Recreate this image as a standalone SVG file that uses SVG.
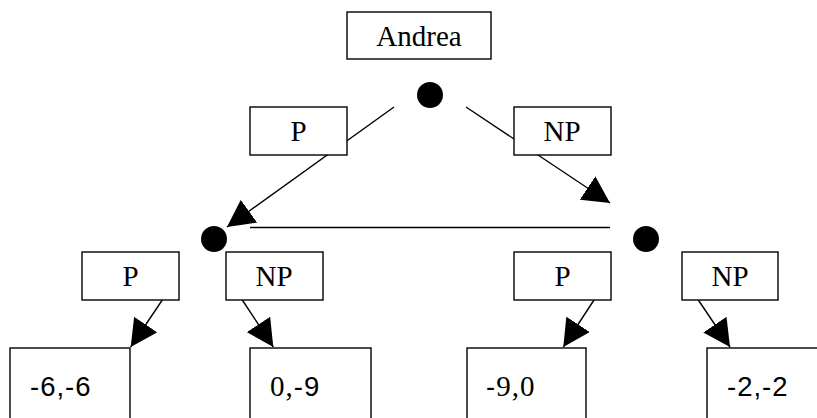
<svg xmlns="http://www.w3.org/2000/svg" width="817" height="418" viewBox="0 0 817 418">
  <style>
    .box { fill: #fff; stroke: #000; stroke-width: 1.4; }
    .edge { stroke: #000; stroke-width: 1.4; fill: none; }
    .lbl { font-family: "Liberation Serif", "Times New Roman", serif; font-size: 29px; text-anchor: middle; fill: #000; }
    .pay { font-family: "Liberation Sans", Arial, sans-serif; font-size: 27.5px; letter-spacing: 1px; fill: #000; }
    .ser { font-family: "Liberation Serif", "Times New Roman", serif; font-size: 29px; }
    .dot { fill: #000; }
  </style>
  <defs>
    <marker id="arrow" viewBox="0 0 27 28" refX="27" refY="14" markerWidth="27" markerHeight="28" markerUnits="userSpaceOnUse" orient="auto">
      <path d="M0,0 L27,14 L0,28 z" fill="#000"/>
    </marker>
  </defs>

  <!-- connectors: moves, information set -->
  <g id="connectors">
    <line class="edge" x1="394" y1="107" x2="227" y2="227" marker-end="url(#arrow)"/>
    <line class="edge" x1="466" y1="107" x2="610" y2="203" marker-end="url(#arrow)"/>
    <line class="edge" x1="250" y1="227.5" x2="610" y2="227.5"/>
    <line class="edge" x1="162.3" y1="300" x2="130.7" y2="347" marker-end="url(#arrow)"/>
    <line class="edge" x1="242.3" y1="300" x2="273.3" y2="347" marker-end="url(#arrow)"/>
    <line class="edge" x1="594" y1="300" x2="563.3" y2="347" marker-end="url(#arrow)"/>
    <line class="edge" x1="698.3" y1="300" x2="730" y2="347" marker-end="url(#arrow)"/>
  </g>

  <!-- decision nodes -->
  <g id="root-node"><circle class="dot" cx="430" cy="95" r="13"/></g>
  <g id="left-node"><circle class="dot" cx="214" cy="239" r="13"/></g>
  <g id="right-node"><circle class="dot" cx="646" cy="239" r="13"/></g>

  <!-- player label -->
  <g id="player">
    <rect class="box" x="347" y="12" width="144" height="47"/>
    <text class="lbl" x="419" y="46">Andrea</text>
  </g>

  <!-- move labels -->
  <g id="move-p-top">
    <rect class="box" x="250" y="107" width="97" height="48"/>
    <text class="lbl" x="298.5" y="141">P</text>
  </g>
  <g id="move-np-top">
    <rect class="box" x="514" y="107" width="97" height="48"/>
    <text class="lbl" x="562" y="141">NP</text>
  </g>
  <g id="move-p-left">
    <rect class="box" x="82" y="252" width="97" height="48"/>
    <text class="lbl" x="130.5" y="286">P</text>
  </g>
  <g id="move-np-left">
    <rect class="box" x="226" y="252" width="97" height="48"/>
    <text class="lbl" x="274" y="286">NP</text>
  </g>
  <g id="move-p-right">
    <rect class="box" x="514" y="252" width="97" height="48"/>
    <text class="lbl" x="562.5" y="286">P</text>
  </g>
  <g id="move-np-right">
    <rect class="box" x="682" y="252" width="96" height="48"/>
    <text class="lbl" x="730" y="286">NP</text>
  </g>

  <!-- payoffs -->
  <g id="payoff-1">
    <rect class="box" x="10" y="348" width="120" height="100"/>
    <text class="pay" x="30" y="396">-6,-6</text>
  </g>
  <g id="payoff-2">
    <rect class="box" x="250" y="348" width="121" height="100"/>
    <text class="pay" x="270" y="396"><tspan class="ser">0,</tspan>-9</text>
  </g>
  <g id="payoff-3">
    <rect class="box" x="467" y="348" width="119" height="100"/>
    <text class="pay" x="486" y="396">-<tspan class="ser">9,0</tspan></text>
  </g>
  <g id="payoff-4">
    <rect class="box" x="707" y="348" width="130" height="100"/>
    <text class="pay" x="727" y="396">-2,-2</text>
  </g>
</svg>
